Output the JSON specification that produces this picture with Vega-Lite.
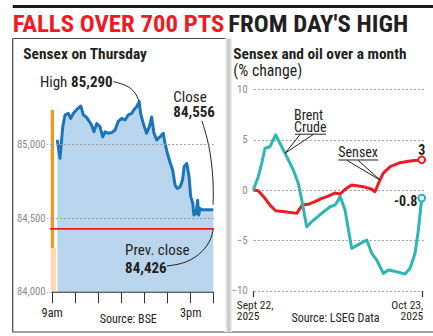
{
  "$schema": "https://vega.github.io/schema/vega-lite/v6.json",
  "width": 433,
  "height": 336,
  "autosize": "none",
  "padding": 0,
  "background": "#ffffff",
  "config": {"view": {"stroke": null}, "font": "Roboto Condensed, Liberation Sans, sans-serif"},
  "datasets": {
    "sensexDay": [
      {"time": 9.24, "value": 85030}, {"time": 9.36, "value": 84905}, {"time": 9.48, "value": 85120}, {"time": 9.58, "value": 85200},
      {"time": 9.72, "value": 85210}, {"time": 9.82, "value": 85175}, {"time": 9.94, "value": 85210}, {"time": 10.08, "value": 85235},
      {"time": 10.26, "value": 85260}, {"time": 10.37, "value": 85200}, {"time": 10.49, "value": 85185}, {"time": 10.59, "value": 85165},
      {"time": 10.73, "value": 85130}, {"time": 10.83, "value": 85085}, {"time": 10.95, "value": 85140}, {"time": 11.09, "value": 85120},
      {"time": 11.21, "value": 85050}, {"time": 11.31, "value": 85085}, {"time": 11.45, "value": 85075}, {"time": 11.6, "value": 85080},
      {"time": 11.74, "value": 85095}, {"time": 11.88, "value": 85155}, {"time": 12.03, "value": 85175}, {"time": 12.18, "value": 85165},
      {"time": 12.32, "value": 85200}, {"time": 12.47, "value": 85210}, {"time": 12.56, "value": 85235}, {"time": 12.68, "value": 85255},
      {"time": 12.79, "value": 85290}, {"time": 12.85, "value": 85210}, {"time": 12.97, "value": 85140}, {"time": 13.11, "value": 85075},
      {"time": 13.23, "value": 85120}, {"time": 13.33, "value": 85185}, {"time": 13.43, "value": 85075}, {"time": 13.55, "value": 85030},
      {"time": 13.69, "value": 85050}, {"time": 13.83, "value": 85075}, {"time": 13.91, "value": 85005}, {"time": 14.01, "value": 84940},
      {"time": 14.12, "value": 84880}, {"time": 14.24, "value": 84825}, {"time": 14.34, "value": 84725}, {"time": 14.44, "value": 84700},
      {"time": 14.56, "value": 84710}, {"time": 14.67, "value": 84760}, {"time": 14.74, "value": 84850}, {"time": 14.85, "value": 84870},
      {"time": 14.95, "value": 84780}, {"time": 15.02, "value": 84645}, {"time": 15.11, "value": 84600}, {"time": 15.16, "value": 84520},
      {"time": 15.25, "value": 84530}, {"time": 15.32, "value": 84620}, {"time": 15.37, "value": 84520}, {"time": 15.42, "value": 84565},
      {"time": 15.5, "value": 84556}, {"time": 16.0, "value": 84556}
    ],
    "month": [
      {"series": "Sensex", "day": 0, "pct": 0}, {"series": "Sensex", "day": 0.9, "pct": -0.07}, {"series": "Sensex", "day": 2.15, "pct": -0.83},
      {"series": "Sensex", "day": 3.07, "pct": -1.5}, {"series": "Sensex", "day": 4.1, "pct": -2.06}, {"series": "Sensex", "day": 5.85, "pct": -2.16},
      {"series": "Sensex", "day": 8.0, "pct": -2.32}, {"series": "Sensex", "day": 8.6, "pct": -1.82}, {"series": "Sensex", "day": 9.0, "pct": -1.5},
      {"series": "Sensex", "day": 10.1, "pct": -1.42}, {"series": "Sensex", "day": 11.35, "pct": -1.16}, {"series": "Sensex", "day": 12.6, "pct": -0.83},
      {"series": "Sensex", "day": 13.8, "pct": -0.6}, {"series": "Sensex", "day": 15.0, "pct": -0.3}, {"series": "Sensex", "day": 15.95, "pct": -0.4},
      {"series": "Sensex", "day": 16.9, "pct": 0.07}, {"series": "Sensex", "day": 18.1, "pct": 0.5}, {"series": "Sensex", "day": 20.25, "pct": 0.33},
      {"series": "Sensex", "day": 21.8, "pct": 0.07}, {"series": "Sensex", "day": 22.4, "pct": -0.17}, {"series": "Sensex", "day": 23.3, "pct": 0.99},
      {"series": "Sensex", "day": 23.9, "pct": 1.66}, {"series": "Sensex", "day": 25.2, "pct": 2.32}, {"series": "Sensex", "day": 27.0, "pct": 2.71},
      {"series": "Sensex", "day": 28.85, "pct": 2.88}, {"series": "Sensex", "day": 31.0, "pct": 3.0},
      {"series": "Brent Crude", "day": 0, "pct": 0}, {"series": "Brent Crude", "day": 0.92, "pct": 1.32}, {"series": "Brent Crude", "day": 1.55, "pct": 2.65},
      {"series": "Brent Crude", "day": 2.15, "pct": 4.15}, {"series": "Brent Crude", "day": 3.07, "pct": 4.3}, {"series": "Brent Crude", "day": 4.12, "pct": 5.47},
      {"series": "Brent Crude", "day": 5.23, "pct": 4.3}, {"series": "Brent Crude", "day": 6.15, "pct": 3.31}, {"series": "Brent Crude", "day": 7.36, "pct": 1.99},
      {"series": "Brent Crude", "day": 8.28, "pct": 0.67}, {"series": "Brent Crude", "day": 8.91, "pct": -0.99}, {"series": "Brent Crude", "day": 9.83, "pct": -3.65},
      {"series": "Brent Crude", "day": 10.75, "pct": -3.15}, {"series": "Brent Crude", "day": 12.59, "pct": -2.32}, {"series": "Brent Crude", "day": 14.12, "pct": -1.66},
      {"series": "Brent Crude", "day": 15.04, "pct": -1.49}, {"series": "Brent Crude", "day": 15.65, "pct": -0.99}, {"series": "Brent Crude", "day": 15.96, "pct": -0.6},
      {"series": "Brent Crude", "day": 16.88, "pct": -1.99}, {"series": "Brent Crude", "day": 18.11, "pct": -5.8}, {"series": "Brent Crude", "day": 20.88, "pct": -4.97},
      {"series": "Brent Crude", "day": 21.8, "pct": -6.29}, {"series": "Brent Crude", "day": 22.72, "pct": -6.96}, {"series": "Brent Crude", "day": 23.93, "pct": -8.28},
      {"series": "Brent Crude", "day": 24.85, "pct": -7.95}, {"series": "Brent Crude", "day": 26.4, "pct": -8.12}, {"series": "Brent Crude", "day": 27.93, "pct": -8.35},
      {"series": "Brent Crude", "day": 28.85, "pct": -7.78}, {"series": "Brent Crude", "day": 29.77, "pct": -6.29}, {"series": "Brent Crude", "day": 30.38, "pct": -3.98},
      {"series": "Brent Crude", "day": 31.0, "pct": -0.8}
    ]
  },
  "layer": [
    {
      "layer": [
        {
          "data": {"values": [{"gx": 12.7, "gx2": 433, "gy": 6.5, "gy2": 6.5}]},
          "mark": {"type": "rule", "color": "#1a1a1a", "strokeWidth": 3},
          "encoding": {
            "x": {"field": "gx", "type": "quantitative", "scale": {"domain": [0, 433], "range": [0, 433], "nice": false, "zero": false}, "axis": null},
            "x2": {"field": "gx2"},
            "y": {"field": "gy", "type": "quantitative", "scale": {"domain": [0, 336], "range": [0, 336], "nice": false, "zero": false}, "axis": null},
            "y2": {"field": "gy2"}
          }
        },
        {
          "data": {"values": [
            {"gx": 12.7, "gx2": 226, "gy": 38.5, "gy2": 38.5},
            {"gx": 12.7, "gx2": 12.7, "gy": 38.5, "gy2": 332},
            {"gx": 12.7, "gx2": 433, "gy": 332, "gy2": 332}
          ]},
          "mark": {"type": "rule", "color": "#444444", "strokeWidth": 1.2},
          "encoding": {
            "x": {"field": "gx", "type": "quantitative", "scale": {"domain": [0, 433], "range": [0, 433], "nice": false, "zero": false}, "axis": null},
            "x2": {"field": "gx2"},
            "y": {"field": "gy", "type": "quantitative", "scale": {"domain": [0, 336], "range": [0, 336], "nice": false, "zero": false}, "axis": null},
            "y2": {"field": "gy2"}
          }
        },
        {
          "data": {"values": [{"gx": 224.5, "gx2": 232, "gy": 38.5, "gy2": 332}]},
          "mark": {"type": "rect", "fill": {"gradient": "linear", "x1": 0, "x2": 1, "y1": 0, "y2": 0, "stops": [{"offset": 0, "color": "#ffffff"}, {"offset": 0.55, "color": "#c2c2c2"}, {"offset": 1, "color": "#f2f2f2"}]}},
          "encoding": {
            "x": {"field": "gx", "type": "quantitative", "scale": {"domain": [0, 433], "range": [0, 433], "nice": false, "zero": false}, "axis": null},
            "x2": {"field": "gx2"},
            "y": {"field": "gy", "type": "quantitative", "scale": {"domain": [0, 336], "range": [0, 336], "nice": false, "zero": false}, "axis": null},
            "y2": {"field": "gy2"}
          }
        },
        {
          "data": {"values": [{"label": "FALLS OVER 700 PTS", "gx": 12.7, "gy": 31.7}]},
          "mark": {"type": "text", "align": "left", "baseline": "alphabetic", "fontSize": 24.8, "fontWeight": "bold", "color": "#ed1c24"},
          "encoding": {
            "x": {"field": "gx", "type": "quantitative", "scale": {"domain": [0, 433], "range": [0, 433], "nice": false, "zero": false}, "axis": null},
            "y": {"field": "gy", "type": "quantitative", "scale": {"domain": [0, 336], "range": [0, 336], "nice": false, "zero": false}, "axis": null},
            "text": {"field": "label"}
          }
        },
        {
          "data": {"values": [{"label": "FROM DAY'S HIGH", "gx": 228.3, "gy": 31.7}]},
          "mark": {"type": "text", "align": "left", "baseline": "alphabetic", "fontSize": 24.8, "fontWeight": "bold", "color": "#231f20"},
          "encoding": {
            "x": {"field": "gx", "type": "quantitative", "scale": {"domain": [0, 433], "range": [0, 433], "nice": false, "zero": false}, "axis": null},
            "y": {"field": "gy", "type": "quantitative", "scale": {"domain": [0, 336], "range": [0, 336], "nice": false, "zero": false}, "axis": null},
            "text": {"field": "label"}
          }
        },
        {
          "data": {"values": [{"label": "Sensex on Thursday", "gx": 23.3, "gy": 59}, {"label": "Sensex and oil over a month", "gx": 233.3, "gy": 59}]},
          "mark": {"type": "text", "align": "left", "baseline": "alphabetic", "fontSize": 15.4, "fontWeight": "bold", "color": "#231f20"},
          "encoding": {
            "x": {"field": "gx", "type": "quantitative", "scale": {"domain": [0, 433], "range": [0, 433], "nice": false, "zero": false}, "axis": null},
            "y": {"field": "gy", "type": "quantitative", "scale": {"domain": [0, 336], "range": [0, 336], "nice": false, "zero": false}, "axis": null},
            "text": {"field": "label"}
          }
        },
        {
          "data": {"values": [{"label": "(% change)", "gx": 233.3, "gy": 76}]},
          "mark": {"type": "text", "align": "left", "baseline": "alphabetic", "fontSize": 15.8, "color": "#231f20"},
          "encoding": {
            "x": {"field": "gx", "type": "quantitative", "scale": {"domain": [0, 433], "range": [0, 433], "nice": false, "zero": false}, "axis": null},
            "y": {"field": "gy", "type": "quantitative", "scale": {"domain": [0, 336], "range": [0, 336], "nice": false, "zero": false}, "axis": null},
            "text": {"field": "label"}
          }
        },
        {
          "data": {"values": [{"label": "Source: BSE", "gx": 128.3, "gy": 322.5}, {"label": "Source: LSEG Data", "gx": 335.5, "gy": 321.5}]},
          "mark": {"type": "text", "align": "center", "baseline": "alphabetic", "fontSize": 12, "color": "#231f20"},
          "encoding": {
            "x": {"field": "gx", "type": "quantitative", "scale": {"domain": [0, 433], "range": [0, 433], "nice": false, "zero": false}, "axis": null},
            "y": {"field": "gy", "type": "quantitative", "scale": {"domain": [0, 336], "range": [0, 336], "nice": false, "zero": false}, "axis": null},
            "text": {"field": "label"}
          }
        }
      ]
    },
    {
      "layer": [
        {
          "data": {"name": "sensexDay"},
          "mark": {"type": "area", "color": "#b9d6ee"},
          "encoding": {
            "x": {"field": "time", "type": "quantitative", "title": null,
                  "scale": {"domain": [9, 16], "range": [51.7, 213.3], "nice": false, "zero": false},
                  "axis": {"orient": "bottom", "offset": -44.3, "values": [9, 10, 11, 12, 13, 14, 15, 16],
                           "labelExpr": "datum.value == 9 ? '9am' : (datum.value == 15 ? '3pm' : '')",
                           "domain": true, "domainColor": "#333333", "domainWidth": 1, "ticks": true, "tickColor": "#333333", "tickSize": 11, "tickWidth": 1,
                           "labelFontSize": 12.3, "labelColor": "#231f20", "labelPadding": 4, "grid": false, "title": null,
                           "labelFlush": false, "labelOverlap": false, "labelBound": false, "zindex": 1}},
            "y": {"field": "value", "type": "quantitative", "title": null,
                  "scale": {"domain": [84000, 85500], "range": [291.7, 70.6], "nice": false, "zero": false},
                  "axis": {"orient": "left", "offset": -51.7, "values": [84000, 84500, 85000], "labelExpr": "format(datum.value, ',')",
                           "domain": false, "ticks": true, "tickSize": 5, "tickColor": "#9a9a9a", "tickDash": [2, 2],
                           "grid": true, "gridColor": "#9a9a9a", "gridDash": [2, 2], "gridWidth": 1,
                           "labelFontSize": 10.8, "labelColor": "#8c8c8c", "labelPadding": 1.5, "title": null, "zindex": 1}},
            "y2": {"datum": 84000}
          }
        },
        {
          "data": {"values": [
            {"t0": 8.96, "t1": 9.19, "lo": 84000, "hi": 84296, "shade": "light"},
            {"t0": 8.96, "t1": 9.1, "lo": 84296, "hi": 85233, "shade": "dark"}
          ]},
          "mark": {"type": "rect"},
          "encoding": {
            "x": {"field": "t0", "type": "quantitative", "title": null, "scale": {"domain": [9, 16], "range": [51.7, 213.3], "nice": false, "zero": false}},
            "x2": {"field": "t1"},
            "y": {"field": "lo", "type": "quantitative", "title": null, "scale": {"domain": [84000, 85500], "range": [291.7, 70.6], "nice": false, "zero": false}},
            "y2": {"field": "hi"},
            "color": {"field": "shade", "type": "nominal", "scale": {"domain": ["light", "dark"], "range": ["#fdd8ab", "#f7941d"]}, "legend": null}
          }
        },
        {
          "data": {"values": [{"t0": 8.93, "t1": 16, "prevClose": 84426}]},
          "mark": {"type": "rule", "color": "#ed1c24", "strokeWidth": 1.8},
          "encoding": {
            "x": {"field": "t0", "type": "quantitative", "title": null, "scale": {"domain": [9, 16], "range": [51.7, 213.3], "nice": false, "zero": false}},
            "x2": {"field": "t1"},
            "y": {"field": "prevClose", "type": "quantitative", "title": null, "scale": {"domain": [84000, 85500], "range": [291.7, 70.6], "nice": false, "zero": false}}
          }
        },
        {
          "data": {"name": "sensexDay"},
          "mark": {"type": "line", "color": "#1b75bb", "strokeWidth": 3, "strokeJoin": "round"},
          "encoding": {
            "x": {"field": "time", "type": "quantitative", "title": null, "scale": {"domain": [9, 16], "range": [51.7, 213.3], "nice": false, "zero": false}},
            "y": {"field": "value", "type": "quantitative", "title": null, "scale": {"domain": [84000, 85500], "range": [291.7, 70.6], "nice": false, "zero": false}}
          }
        },
        {
          "data": {"values": [
            {"id": "high", "seq": 1, "t": 11.67, "v": 85425}, {"id": "high", "seq": 2, "t": 12.25, "v": 85402},
            {"id": "high", "seq": 3, "t": 12.61, "v": 85357}, {"id": "high", "seq": 4, "t": 12.79, "v": 85292},
            {"id": "close", "seq": 1, "t": 15.51, "v": 85158}, {"id": "close", "seq": 2, "t": 15.77, "v": 85029},
            {"id": "close", "seq": 3, "t": 15.95, "v": 84860}, {"id": "close", "seq": 4, "t": 16.01, "v": 84690},
            {"id": "close", "seq": 5, "t": 15.99, "v": 84590},
            {"id": "prev", "seq": 1, "t": 13.98, "v": 84174}, {"id": "prev", "seq": 2, "t": 14.85, "v": 84193},
            {"id": "prev", "seq": 3, "t": 15.57, "v": 84271}, {"id": "prev", "seq": 4, "t": 15.93, "v": 84362},
            {"id": "prev", "seq": 5, "t": 16.0, "v": 84430}
          ]},
          "mark": {"type": "line", "interpolate": "basis", "color": "#231f20", "strokeWidth": 1},
          "encoding": {
            "x": {"field": "t", "type": "quantitative", "title": null, "scale": {"domain": [9, 16], "range": [51.7, 213.3], "nice": false, "zero": false}},
            "y": {"field": "v", "type": "quantitative", "title": null, "scale": {"domain": [84000, 85500], "range": [291.7, 70.6], "nice": false, "zero": false}},
            "detail": {"field": "id"},
            "order": {"field": "seq"}
          }
        },
        {
          "data": {"values": [
            {"label": "High", "t": 8.49, "v": 85392},
            {"label": "Close", "t": 14.27, "v": 85289},
            {"label": "Prev. close", "t": 12.18, "v": 84249}
          ]},
          "mark": {"type": "text", "align": "left", "baseline": "alphabetic", "fontSize": 15, "color": "#231f20"},
          "encoding": {
            "x": {"field": "t", "type": "quantitative", "title": null, "scale": {"domain": [9, 16], "range": [51.7, 213.3], "nice": false, "zero": false}},
            "y": {"field": "v", "type": "quantitative", "title": null, "scale": {"domain": [84000, 85500], "range": [291.7, 70.6], "nice": false, "zero": false}},
            "text": {"field": "label"}
          }
        },
        {
          "data": {"values": [
            {"label": "85,290", "t": 9.84, "v": 85392},
            {"label": "84,556", "t": 14.27, "v": 85183},
            {"label": "84,426", "t": 12.18, "v": 84129}
          ]},
          "mark": {"type": "text", "align": "left", "baseline": "alphabetic", "fontSize": 15, "fontWeight": "bold", "color": "#231f20"},
          "encoding": {
            "x": {"field": "t", "type": "quantitative", "title": null, "scale": {"domain": [9, 16], "range": [51.7, 213.3], "nice": false, "zero": false}},
            "y": {"field": "v", "type": "quantitative", "title": null, "scale": {"domain": [84000, 85500], "range": [291.7, 70.6], "nice": false, "zero": false}},
            "text": {"field": "label"}
          }
        }
      ]
    },
    {
      "layer": [
        {
          "data": {"name": "month"},
          "mark": {"type": "line", "strokeWidth": 3, "strokeJoin": "round"},
          "encoding": {
            "x": {"field": "day", "type": "quantitative", "title": null,
                  "scale": {"domain": [0, 31.6], "range": [253.3, 425], "nice": false, "zero": false},
                  "axis": {"orient": "bottom", "offset": -45.3, "values": [0, 31], "labels": false, "domain": false,
                           "ticks": true, "tickSize": 6, "tickColor": "#333333", "tickWidth": 1.2, "grid": false, "title": null}},
            "y": {"field": "pct", "type": "quantitative", "title": null,
                  "scale": {"domain": [-10, 10], "range": [290.7, 89.3], "nice": false, "zero": false},
                  "axis": {"orient": "left", "offset": -253.3, "values": [-10, -5, 0, 5, 10], "domain": false, "ticks": false,
                           "grid": true, "gridColor": "#9a9a9a", "gridDash": [2, 2], "gridWidth": 1,
                           "labelFontSize": 11, "labelColor": "#8c8c8c", "labelPadding": 6, "title": null}},
            "color": {"field": "series", "type": "nominal", "scale": {"domain": ["Sensex", "Brent Crude"], "range": ["#ed1c24", "#2cb7b1"]}, "legend": null}
          }
        },
        {
          "data": {"values": [{"series": "Sensex", "day": 31.0, "pct": 3.0}, {"series": "Brent Crude", "day": 31.0, "pct": -0.8}]},
          "mark": {"type": "point", "filled": true, "fill": "#ffffff", "size": 45, "strokeWidth": 2, "opacity": 1},
          "encoding": {
            "x": {"field": "day", "type": "quantitative", "title": null, "scale": {"domain": [0, 31.6], "range": [253.3, 425], "nice": false, "zero": false}},
            "y": {"field": "pct", "type": "quantitative", "title": null, "scale": {"domain": [-10, 10], "range": [290.7, 89.3], "nice": false, "zero": false}},
            "stroke": {"field": "series", "type": "nominal", "scale": {"domain": ["Sensex", "Brent Crude"], "range": ["#ed1c24", "#2cb7b1"]}, "legend": null}
          }
        },
        {
          "data": {"values": [
            {"id": "brentU", "seq": 1, "d": 7.67, "p": 5.54}, {"id": "brentU", "seq": 2, "d": 13.38, "p": 5.54},
            {"id": "brentL", "seq": 1, "d": 8.6, "p": 5.5}, {"id": "brentL", "seq": 2, "d": 5.85, "p": 3.65}, {"id": "brentL", "seq": 3, "d": 11.0, "p": 5.5},
            {"id": "sensexU", "seq": 1, "d": 15.64, "p": 2.98}, {"id": "sensexU", "seq": 2, "d": 23.0, "p": 2.98},
            {"id": "sensexL", "seq": 1, "d": 17.2, "p": 2.95}, {"id": "sensexL", "seq": 2, "d": 23.3, "p": 1.0}, {"id": "sensexL", "seq": 3, "d": 19.3, "p": 2.95}
          ]},
          "mark": {"type": "line", "color": "#231f20", "strokeWidth": 1},
          "encoding": {
            "x": {"field": "d", "type": "quantitative", "title": null, "scale": {"domain": [0, 31.6], "range": [253.3, 425], "nice": false, "zero": false}},
            "y": {"field": "p", "type": "quantitative", "title": null, "scale": {"domain": [-10, 10], "range": [290.7, 89.3], "nice": false, "zero": false}},
            "detail": {"field": "id"},
            "order": {"field": "seq"}
          }
        },
        {
          "data": {"values": [
            {"label": "Brent", "d": 7.49, "p": 6.96},
            {"label": "Crude", "d": 7.49, "p": 5.77},
            {"label": "Sensex", "d": 15.64, "p": 3.23}
          ]},
          "mark": {"type": "text", "align": "left", "baseline": "alphabetic", "fontSize": 14, "color": "#231f20"},
          "encoding": {
            "x": {"field": "d", "type": "quantitative", "title": null, "scale": {"domain": [0, 31.6], "range": [253.3, 425], "nice": false, "zero": false}},
            "y": {"field": "p", "type": "quantitative", "title": null, "scale": {"domain": [-10, 10], "range": [290.7, 89.3], "nice": false, "zero": false}},
            "text": {"field": "label"}
          }
        },
        {
          "data": {"values": [{"label": "3", "d": 31.0, "p": 3.48}]},
          "mark": {"type": "text", "align": "center", "baseline": "alphabetic", "fontSize": 14, "fontWeight": "bold", "color": "#231f20"},
          "encoding": {
            "x": {"field": "d", "type": "quantitative", "title": null, "scale": {"domain": [0, 31.6], "range": [253.3, 425], "nice": false, "zero": false}},
            "y": {"field": "p", "type": "quantitative", "title": null, "scale": {"domain": [-10, 10], "range": [290.7, 89.3], "nice": false, "zero": false}},
            "text": {"field": "label"}
          }
        },
        {
          "data": {"values": [{"label": "-0.8", "d": 30.18, "p": -1.54}]},
          "mark": {"type": "text", "align": "right", "baseline": "alphabetic", "fontSize": 14, "fontWeight": "bold", "color": "#231f20"},
          "encoding": {
            "x": {"field": "d", "type": "quantitative", "title": null, "scale": {"domain": [0, 31.6], "range": [253.3, 425], "nice": false, "zero": false}},
            "y": {"field": "p", "type": "quantitative", "title": null, "scale": {"domain": [-10, 10], "range": [290.7, 89.3], "nice": false, "zero": false}},
            "text": {"field": "label"}
          }
        },
        {
          "data": {"values": [{"label": "Sept 22,", "d": -3.05, "p": -11.8}, {"label": "2025", "d": -3.05, "p": -12.95}]},
          "mark": {"type": "text", "align": "left", "baseline": "alphabetic", "fontSize": 11.5, "color": "#231f20"},
          "encoding": {
            "x": {"field": "d", "type": "quantitative", "title": null, "scale": {"domain": [0, 31.6], "range": [253.3, 425], "nice": false, "zero": false}},
            "y": {"field": "p", "type": "quantitative", "title": null, "scale": {"domain": [-10, 10], "range": [290.7, 89.3], "nice": false, "zero": false}},
            "text": {"field": "label"}
          }
        },
        {
          "data": {"values": [{"label": "Oct 23,", "d": 31.28, "p": -11.8}, {"label": "2025", "d": 31.28, "p": -12.95}]},
          "mark": {"type": "text", "align": "right", "baseline": "alphabetic", "fontSize": 11.5, "color": "#231f20"},
          "encoding": {
            "x": {"field": "d", "type": "quantitative", "title": null, "scale": {"domain": [0, 31.6], "range": [253.3, 425], "nice": false, "zero": false}},
            "y": {"field": "p", "type": "quantitative", "title": null, "scale": {"domain": [-10, 10], "range": [290.7, 89.3], "nice": false, "zero": false}},
            "text": {"field": "label"}
          }
        }
      ]
    }
  ],
  "resolve": {"scale": {"x": "independent", "y": "independent", "color": "independent", "stroke": "independent"}, "axis": {"x": "independent", "y": "independent"}}
}
